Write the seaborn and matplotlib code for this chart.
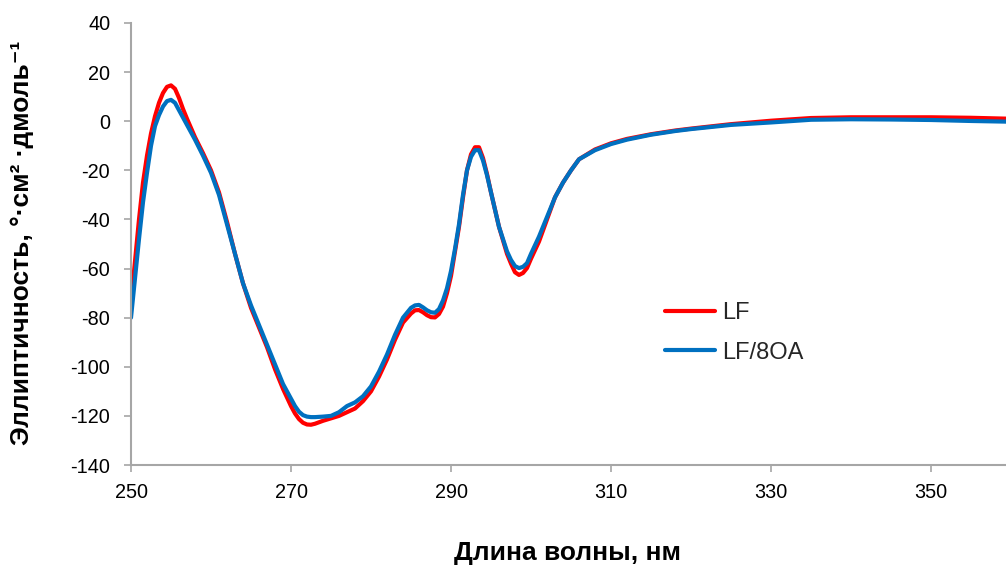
import matplotlib
matplotlib.use("Agg")
import matplotlib.pyplot as plt
import seaborn as sns
import pandas as pd

wavelength = [250, 250.5, 251, 251.5, 252, 252.5, 253, 253.5, 254, 254.5, 255, 255.5, 256, 256.5,
              257, 258, 259, 260, 261, 262, 263, 264, 265, 266, 267, 268, 269,
              270, 270.5, 271, 271.5, 272, 272.5, 273, 274, 275, 276, 277, 278, 279,
              280, 281, 282, 283, 284, 285, 285.5, 286, 286.5, 287, 287.5, 288, 288.5, 289, 289.5,
              290, 290.5, 291, 291.5, 292, 292.5, 293, 293.5, 294, 294.5, 295, 296, 297, 297.5,
              298, 298.5, 299, 299.5, 300, 301, 302, 303, 304, 305, 306, 308,
              310, 312, 315, 318, 320, 325, 330, 335, 340, 345, 350, 355, 360]

lf = [-74, -57, -40, -25, -14, -5, 2, 7.5, 11.5, 14, 14.6, 13.2, 9.5, 5,
      1, -6.5, -13, -20, -29, -41, -54, -66, -76, -84, -92, -101, -109,
      -116, -119, -121.3, -122.8, -123.5, -123.6, -123.2, -122, -121, -120, -118.5, -117, -114,
      -110, -104, -97, -89, -82, -78.3, -77, -76.9, -77.8, -79, -79.8, -79.9, -78.5, -75.5, -70,
      -63, -53, -43, -31, -20, -13.5, -10.6, -10.6, -15, -21.5, -29, -43, -54, -58,
      -61.5, -62.6, -61.8, -59.8, -56, -49, -40, -31, -25, -20, -15.5, -11.5,
      -9, -7.2, -5.3, -3.8, -3, -1.2, 0.2, 1.3, 1.6, 1.6, 1.6, 1.4, 1.0]

lf_8oa = [-80, -64, -48, -33, -21, -10, -2, 2.5, 6, 8.2, 8.7, 7.5, 4.5, 1.5,
          -1.5, -7.5, -14, -21, -30, -42, -54, -66, -75, -83, -91, -99, -107,
          -113, -116, -118.3, -119.7, -120.3, -120.5, -120.5, -120.3, -120, -118.5, -116, -114.5, -112,
          -108, -102, -95, -87, -80, -76, -75, -74.8, -75.8, -77, -77.8, -78, -76.5, -73, -68,
          -61, -52, -42, -30, -20, -14.5, -11.8, -11.8, -16, -22, -29, -43, -53, -56.5,
          -59, -59.8, -59.3, -57.8, -54, -47, -39, -31, -25, -20, -15.5, -11.8,
          -9.3, -7.5, -5.5, -4, -3.2, -1.5, -0.5, 0.6, 0.8, 0.7, 0.5, 0.1, -0.2]

series_names = ["LF", "LF/8OA"]
colors = ["#ff0000", "#0070c0"]
x_ticks = [250, 270, 290, 310, 330, 350]
y_ticks = list(range(-140, 41, 20))

df = pd.DataFrame({
    "wl": wavelength * 2,
    "val": lf + lf_8oa,
    "series": [series_names[0]] * len(wavelength) + [series_names[1]] * len(wavelength),
})

sns.set_theme(style="white")
plt.rcParams["font.family"] = ["Liberation Sans", "DejaVu Sans"]
plt.rcParams["axes.unicode_minus"] = False

fig = plt.figure(figsize=(10.06, 5.69), dpi=100)
ax = fig.add_axes([131 / 1006, 1 - 465 / 569, 880 / 1006, 442 / 569])

sns.lineplot(data=df, x="wl", y="val", hue="series", palette=colors,
             hue_order=series_names, linewidth=3.0, ax=ax, sort=False, legend=True)

ax.set_xlim(250, 360)
ax.set_ylim(-140, 40)
ax.set_xticks(x_ticks)
ax.set_yticks(y_ticks)
ax.tick_params(axis="both", which="both", direction="out", length=5, width=1.2,
               color="#a6a6a6", labelsize=14.3, labelcolor="#000000", left=True, bottom=True)
ax.tick_params(axis="y", pad=10)
ax.tick_params(axis="x", pad=8)

for side in ["top", "right"]:
    ax.spines[side].set_visible(False)
for side in ["left", "bottom"]:
    ax.spines[side].set_color("#a6a6a6")
    ax.spines[side].set_linewidth(1.5)

ax.set_xlabel("Длина волны, нм", fontsize=19, fontweight="bold", color="#000000", va="center")
ax.xaxis.set_label_coords((568 - 131) / 880, (465 - 553) / 442)
ax.set_ylabel("Эллиптичность, °·см² ·дмоль⁻¹", fontsize=19, fontweight="bold",
              color="#000000", va="center")
ax.yaxis.set_label_coords((22 - 131) / 880, (465 - 243) / 442)

leg = ax.legend(loc="upper left", bbox_to_anchor=(665 / 1006, 1 - 302 / 569),
                bbox_transform=fig.transFigure, frameon=False, borderaxespad=0, borderpad=0,
                fontsize=17, handlelength=2.1, handletextpad=0.3, labelspacing=0.75)
for line in leg.get_lines():
    line.set_linewidth(3.0)

fig.savefig("out.png", dpi=100)
